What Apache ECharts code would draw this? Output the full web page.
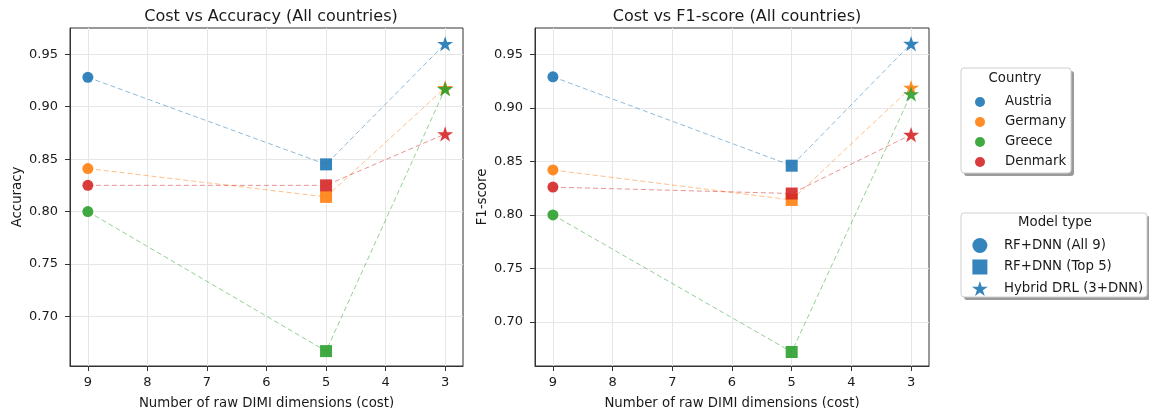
<!DOCTYPE html>
<html>
<head>
    <meta charset="utf-8">
    <title>Cost vs Accuracy / F1-score</title>
    <script src="https://cdn.jsdelivr.net/npm/echarts@6/dist/echarts.min.js"></script>
    <style>
        html, body { margin: 0; padding: 0; background: #fff; }
    </style>
</head>
<body>
    <div id="main" style="width: 1149px;height:408px;"></div>
    <script type="text/javascript">
        // data
        var costs = [9, 5, 3];
        var countries = ['Austria', 'Germany', 'Greece', 'Denmark'];
        var modelTypes = ['RF+DNN (All 9)', 'RF+DNN (Top 5)', 'Hybrid DRL (3+DNN)'];
        var accuracy = {
            Austria: [0.928, 0.845, 0.960],
            Germany: [0.841, 0.814, 0.918],
            Greece:  [0.800, 0.667, 0.917],
            Denmark: [0.825, 0.825, 0.874]
        };
        var f1score = {
            Austria: [0.929, 0.846, 0.960],
            Germany: [0.842, 0.814, 0.919],
            Greece:  [0.800, 0.672, 0.913],
            Denmark: [0.826, 0.820, 0.875]
        };
        var xTicks = [9, 8, 7, 6, 5, 4, 3];
        var yTicks = [0.70, 0.75, 0.80, 0.85, 0.90, 0.95];

        var colors = { Austria: '#1f77b4', Germany: '#ff7f0e', Greece: '#2ca02c', Denmark: '#d62728' };
        var star = 'path://M0,-100L22.45,-30.9L95.1,-30.9L36.3,11.8L58.8,80.9L0,38.2L-58.8,80.9L-36.3,11.8L-95.1,-30.9L-22.45,-30.9Z';
        var square = 'path://M0,0H100V100H0Z';
        var markers = ['circle', 'rect', star];
        var markerSizes = [11, 12, 16];
        var font = 'DejaVu Sans';
        var ink = '#1a1a1a';

        var myChart = echarts.init(document.getElementById('main'));

        function xAxis(idx) {
            return {
                type: 'value', gridIndex: idx, inverse: true,
                min: 2.7, max: 9.3, splitNumber: 6,
                name: 'Number of raw DIMI dimensions (cost)',
                nameLocation: 'middle', nameGap: 31,
                nameTextStyle: { fontFamily: font, fontSize: 13.3, color: ink },
                axisLine: { show: true, onZero: false, lineStyle: { color: '#333', width: 1 } },
                axisTick: { show: true, length: 5, lineStyle: { color: '#333' }, customValues: xTicks },
                axisLabel: { fontFamily: font, fontSize: 13, color: ink, margin: 10, customValues: xTicks },
                splitLine: { show: true, lineStyle: { color: '#e6e6e6', width: 1 } }
            };
        }
        function yAxis(idx, min, max, label) {
            return {
                type: 'value', gridIndex: idx, min: min, max: max,
                name: label, nameLocation: 'middle', nameGap: 46,
                nameTextStyle: { fontFamily: font, fontSize: 13.3, color: ink },
                axisLine: { show: true, lineStyle: { color: '#333', width: 1 } },
                axisTick: { show: true, length: 5, lineStyle: { color: '#333' }, customValues: yTicks },
                axisLabel: { fontFamily: font, fontSize: 13, color: ink, margin: 12, customValues: yTicks,
                    formatter: function (v) { return v.toFixed(2); } },
                splitLine: { show: true, lineStyle: { color: '#e6e6e6', width: 1 } }
            };
        }

        var series = [];
        [accuracy, f1score].forEach(function (metric, p) {
            countries.forEach(function (c) {
                series.push({
                    name: c, type: 'line', xAxisIndex: p, yAxisIndex: p,
                    data: costs.map(function (x, i) {
                        return { value: [x, metric[c][i]], symbol: markers[i], symbolSize: markerSizes[i] };
                    }),
                    symbolKeepAspect: true,
                    lineStyle: { type: [5, 3], width: 1, opacity: 0.5, color: colors[c] },
                    itemStyle: { color: colors[c], opacity: 0.9 },
                    emphasis: { disabled: true },
                    animation: false
                });
            });
        });
        // empty series only for the model type legend
        modelTypes.forEach(function (m) {
            series.push({ name: m, type: 'scatter', xAxisIndex: 0, yAxisIndex: 0, data: [],
                itemStyle: { color: '#1f77b4', opacity: 0.9 } });
        });

        function legendBox(x, y, w, h, title, tx, ty) {
            return [
                { type: 'rect', shape: { x: x + 3, y: y + 3, width: w, height: h, r: 3 },
                  style: { fill: '#9a9a9a' }, z: -2 },
                { type: 'rect', shape: { x: x, y: y, width: w, height: h, r: 3 },
                  style: { fill: '#fff', stroke: '#cfcfcf', lineWidth: 1 }, z: -1 },
                { type: 'text', x: tx, y: ty,
                  style: { text: title, font: '13.3px "DejaVu Sans"', fill: ink,
                           textAlign: 'center', textVerticalAlign: 'middle' }, z: 0 }
            ];
        }

        option = {
            animation: false,
            title: [
                { text: 'Cost vs Accuracy (All countries)', left: 266, top: 4, textAlign: 'center',
                  textStyle: { fontFamily: font, fontSize: 16, fontWeight: 'normal', color: ink } },
                { text: 'Cost vs F1-score (All countries)', left: 732, top: 4, textAlign: 'center',
                  textStyle: { fontFamily: font, fontSize: 16, fontWeight: 'normal', color: ink } }
            ],
            grid: [
                { left: 70, top: 28, width: 393, height: 338, outerBoundsMode: 'none', containLabel: false,
                  show: true, borderColor: '#333', borderWidth: 1, backgroundColor: '#fff' },
                { left: 535, top: 28, width: 394, height: 338, outerBoundsMode: 'none', containLabel: false,
                  show: true, borderColor: '#333', borderWidth: 1, backgroundColor: '#fff' }
            ],
            xAxis: [xAxis(0), xAxis(1)],
            yAxis: [yAxis(0, 0.6528, 0.975, 'Accuracy'), yAxis(1, 0.6589, 0.9746, 'F1-score')],
            legend: [
                { orient: 'vertical', left: 975, top: 95, padding: 0, itemWidth: 24, itemHeight: 10, itemGap: 6,
                  data: countries.map(function (c) { return { name: c, icon: 'circle' }; }),
                  textStyle: { fontFamily: font, fontSize: 13.3, color: ink, lineHeight: 14, padding: [0, 0, 0, 8] },
                  selectedMode: false },
                { orient: 'vertical', left: 972, top: 238, padding: 0, itemWidth: 26, itemHeight: 15, itemGap: 6.5,
                  data: [
                      { name: modelTypes[0], icon: 'circle' },
                      { name: modelTypes[1], icon: square },
                      { name: modelTypes[2], icon: star }
                  ],
                  textStyle: { fontFamily: font, fontSize: 13.3, color: ink, lineHeight: 15, padding: [0, 0, 0, 6] },
                  selectedMode: false }
            ],
            graphic: [].concat(
                legendBox(961, 68, 110, 105, 'Country', 1015, 79),
                legendBox(961, 213, 186, 84, 'Model type', 1055, 223)
            ),
            series: series
        };
        myChart.setOption(option);
    </script>
</body>
</html>
